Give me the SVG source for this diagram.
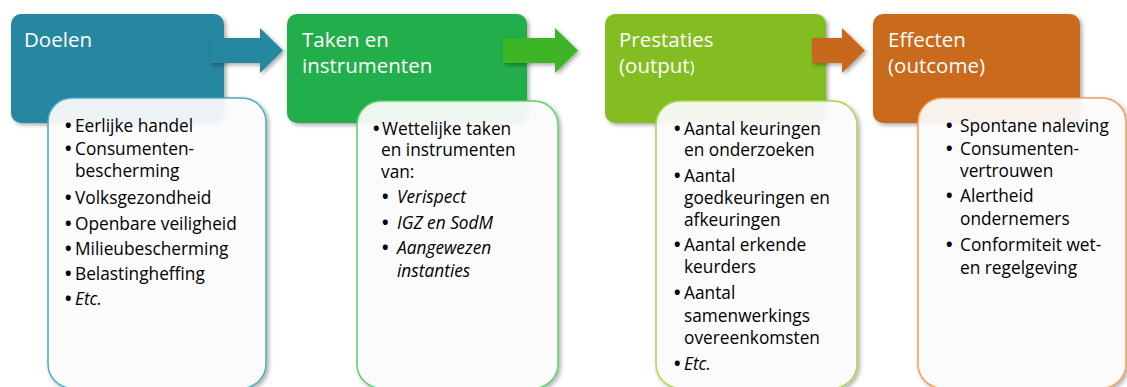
<svg xmlns="http://www.w3.org/2000/svg" width="1127" height="387" viewBox="0 0 1127 387">
<defs>
<filter id="sh" x="-10%" y="-10%" width="130%" height="130%">
<feDropShadow dx="2" dy="2" stdDeviation="2" flood-color="#000" flood-opacity="0.35"/>
</filter>
<style>
.title{font-family:"Open Sans","Liberation Sans",sans-serif;font-size:20.5px;fill:#ffffff}
.body{font-family:"Open Sans","Liberation Sans",sans-serif;font-size:17.3px;fill:#000000}
.b{font-weight:bold;font-style:normal}
.it{font-style:italic}
.inner{fill:#ffffff;fill-opacity:0.9;stroke-width:1.5}
</style>
</defs>
<rect width="1127" height="387" fill="#ffffff"/>

<g id="node-doelen">
<rect x="11" y="14" width="213" height="109" rx="10" fill="#2887A1" filter="url(#sh)"/>
<text class="title" x="24" y="47">Doelen</text>
</g>
<g id="node-taken">
<rect x="287" y="14" width="240" height="109" rx="10" fill="#23AE4C" filter="url(#sh)"/>
<text class="title" x="302" y="47">Taken en</text>
<text class="title" x="302" y="73">instrumenten</text>
</g>
<g id="node-prestaties">
<rect x="605" y="14" width="221" height="109" rx="10" fill="#84BD23" filter="url(#sh)"/>
<text class="title" x="619" y="47">Prestaties</text>
<text class="title" x="619" y="73">(output<tspan font-size="16px">)</tspan></text>
</g>
<g id="node-effecten">
<rect x="873" y="14" width="207" height="109" rx="10" fill="#C96A1E" filter="url(#sh)"/>
<text class="title" x="888" y="47">Effecten</text>
<text class="title" x="888" y="73">(outcome)</text>
</g>

<g id="connectors">
<path d="M210,38 H260 V28 L283,50.5 L260,73 V63 H210 Z" fill="#2887A1" filter="url(#sh)"/>
<path d="M503,38 H555 V28 L578,50.5 L555,73 V63 H503 Z" fill="#3EB526" filter="url(#sh)"/>
<path d="M812,38 H842 V28 L865,50.5 L842,73 V63 H812 Z" fill="#C8681F" filter="url(#sh)"/>
</g>

<g id="list-doelen">
<rect class="inner" x="48" y="98" width="218" height="290" rx="24" stroke="#4BACC6" filter="url(#sh)"/>
<g class="body">
<text x="65" y="132"><tspan class="b">•</tspan><tspan x="75">Eerlijke handel</tspan></text>
<text x="65" y="155"><tspan class="b">•</tspan><tspan x="75">Consumenten-</tspan></text>
<text x="75" y="177">bescherming</text>
<text x="65" y="204"><tspan class="b">•</tspan><tspan x="75">Volksgezondheid</tspan></text>
<text x="65" y="230"><tspan class="b">•</tspan><tspan x="75">Openbare veiligheid</tspan></text>
<text x="65" y="255"><tspan class="b">•</tspan><tspan x="75">Milieubescherming</tspan></text>
<text x="65" y="280"><tspan class="b">•</tspan><tspan x="75">Belastingheffing</tspan></text>
<text x="65" y="305"><tspan class="b">•</tspan><tspan x="75" class="it">Etc.</tspan></text>
</g>
</g>

<g id="list-taken">
<rect class="inner" x="357" y="101" width="201" height="287" rx="24" stroke="#58D46A" filter="url(#sh)"/>
<g class="body">
<text x="373" y="135"><tspan class="b">•</tspan><tspan x="382">Wettelijke taken</tspan></text>
<text x="381" y="156">en instrumenten</text>
<text x="381" y="178">van:</text>
<text x="382" y="203" class="it"><tspan class="b">•</tspan><tspan x="397">Verispect</tspan></text>
<text x="382" y="229" class="it"><tspan class="b">•</tspan><tspan x="397">IGZ en SodM</tspan></text>
<text x="382" y="254" class="it"><tspan class="b">•</tspan><tspan x="397">Aangewezen</tspan></text>
<text x="397" y="277" class="it">instanties</text>
</g>
</g>

<g id="list-prestaties">
<rect class="inner" x="656" y="101" width="201" height="287" rx="24" stroke="#A8D84E" filter="url(#sh)"/>
<g class="body">
<text x="674" y="135"><tspan class="b">•</tspan><tspan x="684">Aantal keuringen</tspan></text>
<text x="684" y="156">en onderzoeken</text>
<text x="674" y="182"><tspan class="b">•</tspan><tspan x="684">Aantal</tspan></text>
<text x="684" y="204">goedkeuringen en</text>
<text x="684" y="226">afkeuringen</text>
<text x="674" y="251"><tspan class="b">•</tspan><tspan x="684">Aantal erkende</tspan></text>
<text x="684" y="273">keurders</text>
<text x="674" y="299"><tspan class="b">•</tspan><tspan x="684">Aantal</tspan></text>
<text x="684" y="322">samenwerkings</text>
<text x="684" y="344">overeenkomsten</text>
<text x="674" y="370"><tspan class="b">•</tspan><tspan x="684" class="it">Etc.</tspan></text>
</g>
</g>

<g id="list-effecten">
<rect class="inner" x="918" y="98" width="208" height="290" rx="24" stroke="#F59D56" filter="url(#sh)"/>
<g class="body">
<text x="946" y="132"><tspan class="b">•</tspan><tspan x="960">Spontane naleving</tspan></text>
<text x="946" y="155"><tspan class="b">•</tspan><tspan x="960">Consumenten-</tspan></text>
<text x="960" y="177">vertrouwen</text>
<text x="946" y="202"><tspan class="b">•</tspan><tspan x="960">Alertheid</tspan></text>
<text x="960" y="225">ondernemers</text>
<text x="946" y="251"><tspan class="b">•</tspan><tspan x="960">Conformiteit wet-</tspan></text>
<text x="960" y="274">en regelgeving</text>
</g>
</g>
</svg>
